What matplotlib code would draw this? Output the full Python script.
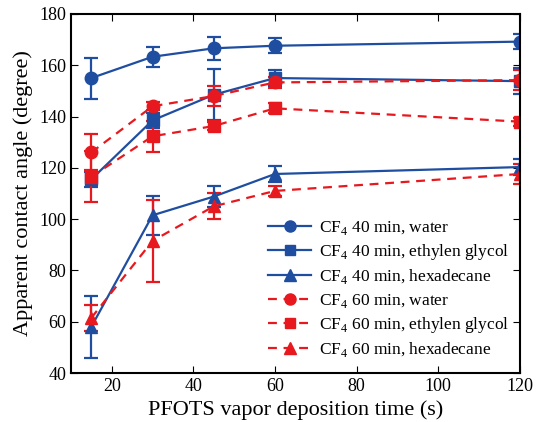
import matplotlib
matplotlib.use("Agg")
import matplotlib.pyplot as plt
from matplotlib.lines import Line2D
import numpy as np

plt.rcParams['font.family'] = ['Liberation Serif', 'DejaVu Serif']
plt.rcParams['mathtext.fontset'] = 'custom'
plt.rcParams['mathtext.rm'] = 'Liberation Serif'

tempo = [15, 30, 45, 60, 120]

# CF4 40 min
agua_40 = [155, 163.3, 166.6, 167.6, 169.2]
agua_40_err = [8, 4, 4.5, 3, 3]
eg_40 = [115.5, 138.5, 148.5, 155, 153.8]
eg_40_err = [3, 3, 10, 3, 5]
hexa_40 = [58, 101.5, 108.8, 117.6, 120.3]
hexa_40_err = [12, 7.5, 4, 3, 3]

# CF4 60 min
agua_60 = [126, 144, 148, 153.3, 154.2]
agua_60_err = [7, 1.5, 4, 2, 4]
eg_60 = [116.5, 132.3, 136.3, 143.2, 138]
eg_60_err = [10, 6, 1.5, 2, 1.5]
hexa_60 = [61.5, 91.5, 105, 111, 117.6]
hexa_60_err = [5, 16, 5, 2, 4]

azul = '#1f4ea0'
vermelho = '#e8191e'

fig = plt.figure(figsize=(5.41, 4.22), dpi=100)
ax = fig.add_axes([0.131, 0.116, 0.83, 0.851])

series = [
    (agua_40, agua_40_err, 'o', azul, '-', 'CF$_{4}$ 40 min, water'),
    (eg_40, eg_40_err, 's', azul, '-', 'CF$_{4}$ 40 min, ethylen glycol'),
    (hexa_40, hexa_40_err, '^', azul, '-', 'CF$_{4}$ 40 min, hexadecane'),
    (agua_60, agua_60_err, 'o', vermelho, '--', 'CF$_{4}$ 60 min, water'),
    (eg_60, eg_60_err, 's', vermelho, '--', 'CF$_{4}$ 60 min, ethylen glycol'),
    (hexa_60, hexa_60_err, '^', vermelho, '--', 'CF$_{4}$ 60 min, hexadecane'),
]

handles = []
for y, err, m, cor, ls, rotulo in series:
    ms = 9 if m != 's' else 8
    tracos = (4, 3) if ls == '--' else (None, None)
    ax.errorbar(tempo, y, yerr=err, marker=m, color=cor, linestyle=ls,
                markersize=ms, linewidth=1.6,
                capsize=5, capthick=1.6, elinewidth=1.6, dashes=tracos)
    # legenda sem barras de erro
    handles.append(Line2D([], [], marker=m, color=cor, linestyle=ls,
                          markersize=ms - 1, linewidth=1.6, dashes=tracos,
                          label=rotulo))

ax.set_xlim(10, 120)
ax.set_ylim(40, 180)
ax.set_xticks([20, 40, 60, 80, 100, 120])
ax.set_yticks(np.arange(40, 181, 20))
ax.tick_params(direction='in', top=True, right=True, labelsize=13, length=5)
for s in ax.spines.values():
    s.set_linewidth(1.5)

ax.set_xlabel('PFOTS vapor deposition time (s)', fontsize=16)
ax.set_ylabel('Apparent contact angle (degree)', fontsize=16)

ax.legend(handles=handles, loc='lower right', frameon=False, fontsize=12.5,
          handlelength=2.5, labelspacing=0.3, handletextpad=0.45,
          borderaxespad=0.2, bbox_to_anchor=(1.0, 0.01))

fig.savefig('out.png', dpi=100)
